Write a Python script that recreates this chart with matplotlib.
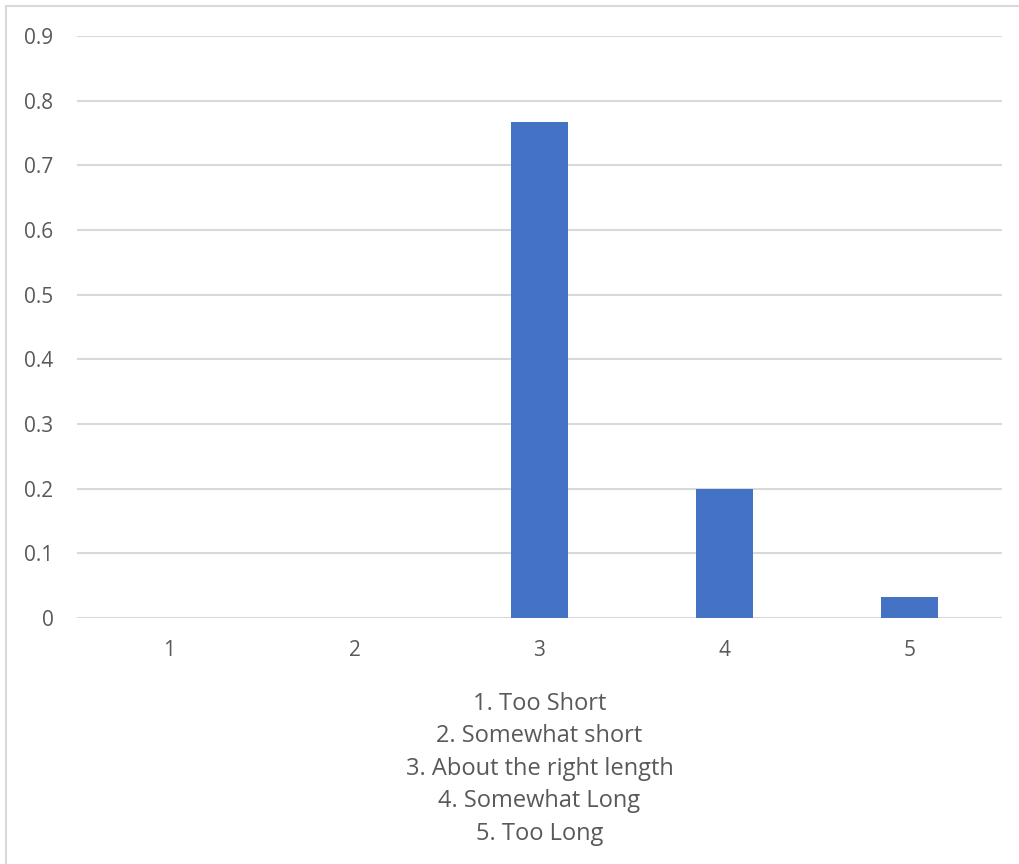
import matplotlib.pyplot as plt
from matplotlib.patches import Rectangle

# response shares per category
categories = ["1", "2", "3", "4", "5"]
shares = [0, 0, 0.767, 0.2, 0.033]
yticks = [0, 0.1, 0.2, 0.3, 0.4, 0.5, 0.6, 0.7, 0.8, 0.9]
xtitle = ["1. Too Short", "2. Somewhat short", "3. About the right length",
          "4. Somewhat Long", "5. Too Long"]

plt.rcParams['font.family'] = ['Open Sans', 'DejaVu Sans']
txt = '#595959'
grid = '#D9D9D9'

fig = plt.figure(figsize=(10.19, 8.64), dpi=100)
ax = fig.add_axes([77/1019, 1 - 618/864, 925/1019, 582/864])

pos = range(len(categories))
ax.bar(pos, shares, width=0.313, color='#4472C4', zorder=3)

ax.set_xlim(-0.5, len(categories) - 0.5)
ax.set_ylim(0, 0.9)
ax.set_yticks(yticks)
ax.set_yticklabels([f"{t:g}" for t in yticks])
ax.set_xticks(list(pos))
ax.set_xticklabels(categories)
ax.tick_params(length=0, colors=txt, labelsize=15)
ax.tick_params(axis='y', pad=17)
ax.tick_params(axis='x', pad=16)
ax.yaxis.grid(True, color=grid, linewidth=1.5, zorder=0)
for s in ax.spines.values():
    s.set_visible(False)

ax.set_xlabel("\n".join(xtitle), color=txt, fontsize=17,
              linespacing=1.47, labelpad=22)

# chart area border
fig.patches.append(Rectangle((6/1019, -0.05), 1.2, 1.05 - 6/864,
                             transform=fig.transFigure, fill=False,
                             edgecolor=grid, linewidth=1.5))

fig.savefig("out.png", dpi=100)
